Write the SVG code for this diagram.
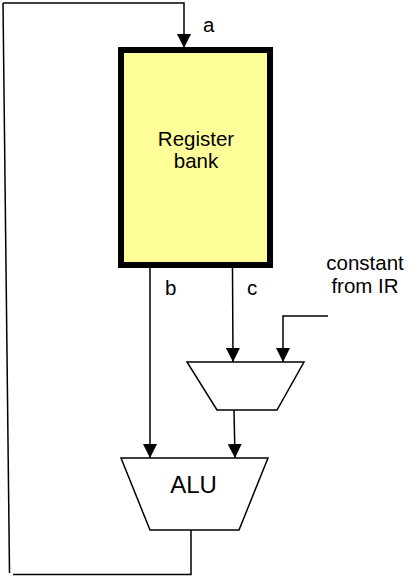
<svg xmlns="http://www.w3.org/2000/svg" width="408" height="579" viewBox="0 0 408 579">
<style>
.w{fill:none;stroke:#000;stroke-width:1.5}
.s{fill:#fff;stroke:#000;stroke-width:1.5}
.t{font-family:"Liberation Sans",Arial,sans-serif;font-size:20.5px;fill:#000}
</style>
<defs>
<marker id="ah" markerUnits="userSpaceOnUse" markerWidth="14" markerHeight="14" viewBox="0 0 14 14" refX="14" refY="7" orient="auto">
<path d="M0,0 L14,7 L0,14 Z" fill="#000"/>
</marker>
</defs>
<g id="connectors">
<polyline class="w" points="3,3 184,3 184,48" marker-end="url(#ah)"/>
<line class="w" x1="3" y1="3" x2="9.5" y2="573"/>
<polyline class="w" points="13,574.5 191,574.5 191,530"/>
<line class="w" x1="150" y1="268" x2="150" y2="458" marker-end="url(#ah)"/>
<line class="w" x1="232.5" y1="268" x2="233" y2="362" marker-end="url(#ah)"/>
<polyline class="w" points="328,316 283,316 283,362" marker-end="url(#ah)"/>
<line class="w" x1="234" y1="410" x2="235" y2="458" marker-end="url(#ah)"/>
</g>
<g id="register-bank">
<rect x="121" y="50" width="149" height="215" fill="#ffff99" stroke="#000" stroke-width="6"/>
<text class="t" x="196" y="146" text-anchor="middle">Register</text>
<text class="t" x="196" y="168" text-anchor="middle">bank</text>
</g>
<g id="mux">
<polygon class="s" points="187,362 304,362 277,410 217,410"/>
</g>
<g id="alu">
<polygon class="s" points="121,458 268,458 239,530 150,530"/>
<text class="t" x="193.5" y="493" text-anchor="middle" style="font-size:24px">ALU</text>
</g>
<g id="labels">
<text class="t" x="203" y="32">a</text>
<text class="t" x="165" y="295">b</text>
<text class="t" x="247" y="295">c</text>
<text class="t" x="365" y="270" text-anchor="middle">constant</text>
<text class="t" x="365" y="293" text-anchor="middle">from IR</text>
</g>
</svg>
